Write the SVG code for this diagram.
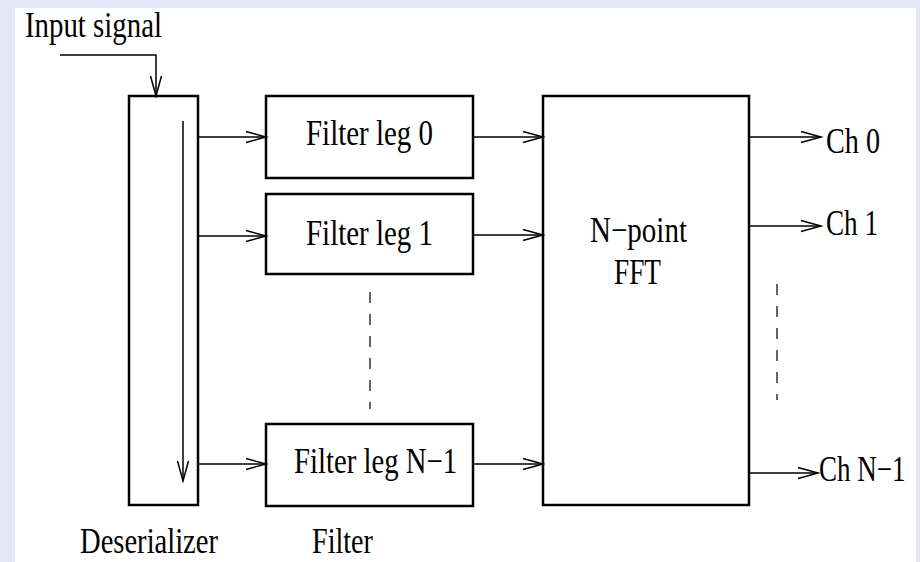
<svg xmlns="http://www.w3.org/2000/svg" width="920" height="562" viewBox="0 0 920 562">
<style>
.box{fill:#fff;stroke:#000;stroke-width:2.5}
.ar{fill:none;stroke:#000;stroke-width:1.5;marker-end:url(#arr)}
.dash{fill:none;stroke:#333;stroke-width:1.5;stroke-dasharray:11 11}
text{font-family:"Liberation Serif","Times New Roman",serif;font-size:36px;fill:#000}
</style>
<defs>
<marker id="arr" markerUnits="userSpaceOnUse" markerWidth="24" markerHeight="14" refX="21" refY="7" orient="auto" viewBox="0 0 24 14">
<path d="M1,1.5 L21,7 L1,12.5" fill="none" stroke="#000" stroke-width="1.5"/>
</marker>
</defs>
<rect x="0" y="0" width="920" height="562" fill="#e4e8f6"/>
<rect x="15" y="8" width="901" height="554" fill="#fff"/>
<text x="25" y="37" textLength="137" lengthAdjust="spacingAndGlyphs">Input signal</text>
<g id="deserializer">
<rect class="box" x="129" y="96" width="69" height="409"/>
<text x="80" y="553" textLength="138" lengthAdjust="spacingAndGlyphs">Deserializer</text>
</g>
<g id="filter0">
<rect class="box" x="266" y="96" width="207" height="82"/>
<text x="306" y="145" textLength="127" lengthAdjust="spacingAndGlyphs">Filter leg 0</text>
</g>
<g id="filter1">
<rect class="box" x="266" y="194" width="207" height="80"/>
<text x="306" y="245" textLength="127" lengthAdjust="spacingAndGlyphs">Filter leg 1</text>
</g>
<g id="filterN1">
<rect class="box" x="266" y="424" width="207" height="82"/>
<text x="294" y="473" textLength="163" lengthAdjust="spacingAndGlyphs">Filter leg N−1</text>
</g>
<text x="312" y="553" textLength="61" lengthAdjust="spacingAndGlyphs">Filter</text>
<g id="fft">
<rect class="box" x="543" y="96" width="206" height="409"/>
<text x="590" y="242" textLength="97" lengthAdjust="spacingAndGlyphs">N−point</text>
<text x="614" y="284" textLength="47" lengthAdjust="spacingAndGlyphs">FFT</text>
</g>
<g id="outputs">
<text x="826" y="153" textLength="54" lengthAdjust="spacingAndGlyphs">Ch 0</text>
<text x="826" y="235" textLength="52" lengthAdjust="spacingAndGlyphs">Ch 1</text>
<text transform="translate(819,481) scale(0.75,1)" x="0" y="0">Ch N−1</text>
</g>
<g id="connectors">
<path class="ar" d="M60,55 H156 V96"/>
<path class="ar" d="M183,121 V481"/>
<path class="ar" d="M198,137 H266"/>
<path class="ar" d="M198,236 H266"/>
<path class="ar" d="M198,464 H266"/>
<path class="ar" d="M473,137 H543"/>
<path class="ar" d="M473,235 H543"/>
<path class="ar" d="M473,464 H543"/>
<path class="ar" d="M749,137 H821"/>
<path class="ar" d="M749,226 H821"/>
<path class="ar" d="M749,473 H818"/>
<path class="dash" d="M370,292 V409"/>
<path class="dash" d="M777,284 V400"/>
</g>
</svg>
